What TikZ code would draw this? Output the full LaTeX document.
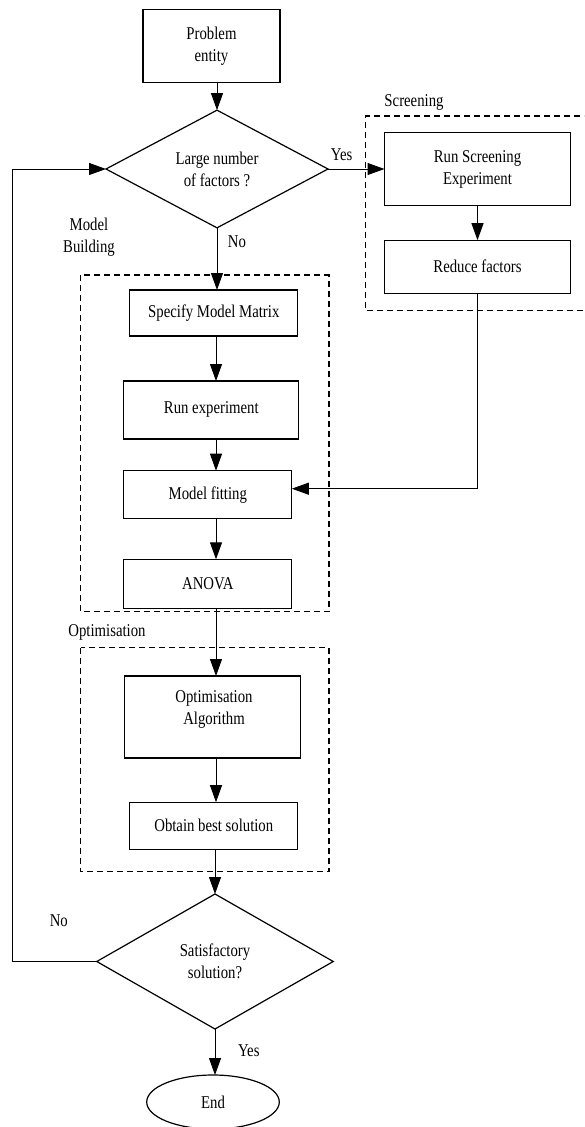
\documentclass[tikz,border=0pt]{standalone}
\usepackage{fontspec}
\setmainfont{Liberation Serif}[FakeStretch=0.82]
\usetikzlibrary{shapes.geometric,arrows.meta}
\tikzset{
  box/.style={draw, line width=1.2pt, rectangle, inner sep=0pt, outer sep=0pt, align=center},
  decision/.style={draw, line width=1.2pt, diamond, inner sep=0pt, outer sep=0pt, align=center},
  terminal/.style={draw, line width=1.2pt, ellipse, inner sep=0pt, outer sep=0pt},
  group/.style={draw, line width=1.2pt, dash pattern=on 6pt off 4pt},
  lbl/.style={inner sep=0pt, align=center},
  arr/.style={line width=1pt, -{Triangle[length=17pt,width=12pt]}},
  link/.style={line width=1pt}
}
\begin{document}
\begin{tikzpicture}[x=1pt,y=-1pt,font=\fontsize{18}{22}\selectfont]
\useasboundingbox (0,0) rectangle (584,1127);
\clip (0,0) rectangle (584,1127);

% group frames
\draw[group] (600,116) -- (365.7,116) -- (365.7,310.7) -- (600,310.7);
\draw[group] (80.8,275) rectangle (328.9,611.7);
\draw[group] (80.8,647.7) rectangle (328.9,871.7);
\node[lbl] (gscr) at (414,102) {Screening};
\node[lbl] (gmod) at (89,237.5) {Model\\Building};
\node[lbl] (gopt) at (107,632.7) {Optimisation};

% process steps
\node[box, minimum width=137pt, minimum height=73pt] (pe) at (211.5,46) {Problem\\entity};
\node[decision, minimum width=222pt, minimum height=105pt] (d1) at (217,169) {Large number\\of factors ?};
\node[box, minimum width=186pt, minimum height=73pt] (rse) at (477.5,169) {Run Screening\\Experiment};
\node[box, minimum width=186pt, minimum height=53pt] (rf) at (477.5,266.7) {Reduce factors};
\node[box, minimum width=168pt, minimum height=46pt] (smm) at (213.8,313) {Specify Model Matrix};
\node[box, minimum width=175pt, minimum height=58pt] (re) at (211.3,410) {\raisebox{5pt}{Run experiment}};
\node[box, minimum width=168pt, minimum height=48pt] (mf) at (207.8,494.7) {Model fitting};
\node[box, minimum width=168pt, minimum height=49pt] (an) at (207.8,583.8) {ANOVA};
\node[box, minimum width=176pt, minimum height=82pt] (oa) at (212.1,717) {};
\node[lbl] (oat) at (214,709) {Optimisation\\Algorithm};
\node[box, minimum width=168pt, minimum height=47pt] (obs) at (213.8,825.7) {Obtain best solution};
\node[decision, minimum width=236.5pt, minimum height=135pt] (d2) at (215,961.5) {Satisfactory\\solution?};
\node[terminal, minimum width=132.6pt, minimum height=54pt] (end) at (213,1102) {End};

% branch labels
\node[lbl] (yes1) at (341.7,155) {Yes};
\node[lbl] (no1) at (237,242) {No};
\node[lbl] (no2) at (58.8,920.7) {No};
\node[lbl] (yes2) at (248.8,1050.7) {Yes};

% connectors
\coordinate (ax) at (216,0);
\coordinate (lx) at (12.3,0);
\draw[arr] (pe.south -| d1.north) -- (d1.north);
\draw[arr] (d1.south) -- (smm.north -| d1.south);
\draw[arr] (d1.east) -- (rse.west);
\draw[arr] (rse.south) -- (rf.north);
\draw[arr] (rf.south) |- ([yshift=6pt]mf.east);
\draw[arr] (smm.south -| ax) -- (re.north -| ax);
\draw[arr] (re.south -| ax) -- (mf.north -| ax);
\draw[arr] (mf.south -| ax) -- (an.north -| ax);
\draw[arr] (an.south -| ax) -- (oa.north -| ax);
\draw[arr] (oa.south -| ax) -- (obs.north -| ax);
\draw[arr] (obs.south -| d2.north) -- (d2.north);
\draw[arr] (d2.south) -- (end.north -| d2.south);
\draw[arr] (d2.west) -- (d2.west -| lx) |- (d1.west);
\end{tikzpicture}
\end{document}
